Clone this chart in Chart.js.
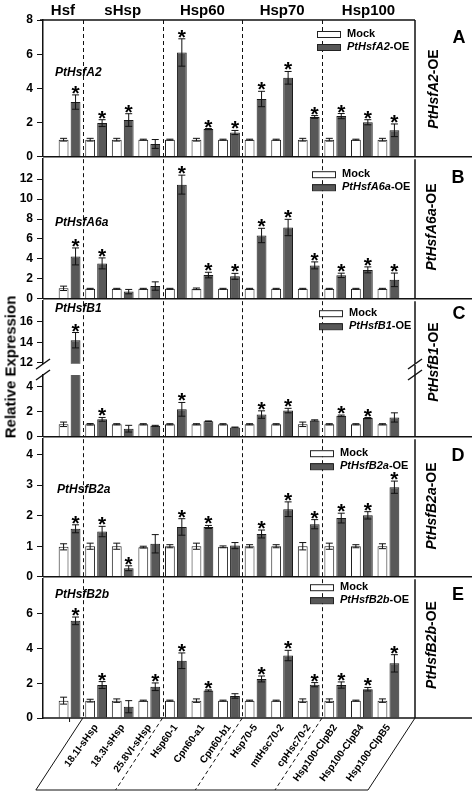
<!DOCTYPE html>
<html>
<head>
<meta charset="utf-8">
<script src="https://cdn.jsdelivr.net/npm/chart.js@4.4.1/dist/chart.umd.min.js"></script>
<style>
  body { margin: 0; background: #fff; }
  #fig { position: relative; width: 472px; height: 792px; overflow: hidden; font-family: "Liberation Sans", Arial, sans-serif; }
  #fig canvas { position: absolute; left: 0; }
  .lbl { position: absolute; font-weight: bold; color: #000; white-space: nowrap; line-height: 1; }
  .rot { transform: translate(-50%, -50%) rotate(-90deg); }
  .ctr { transform: translate(-50%, -50%); }
</style>
</head>
<body>
<div id="fig">
  <canvas id="cA" width="472" height="168" style="top:0px"></canvas>
  <canvas id="cB" width="472" height="162" style="top:148px"></canvas>
  <canvas id="cC1" width="472" height="85" style="top:290px"></canvas>
  <canvas id="cC2" width="472" height="93" style="top:355px"></canvas>
  <canvas id="cD" width="472" height="160" style="top:428px"></canvas>
  <canvas id="cE" width="472" height="224" style="top:568px"></canvas>

  <div class="lbl rot" style="left:10px;top:367px;font-size:15px">Relative Expression</div>

  <div class="lbl ctr" style="left:459px;top:37px;font-size:18px">A</div>
  <div class="lbl ctr" style="left:458px;top:177px;font-size:18px">B</div>
  <div class="lbl ctr" style="left:459px;top:313px;font-size:18px">C</div>
  <div class="lbl ctr" style="left:458px;top:455px;font-size:18px">D</div>
  <div class="lbl ctr" style="left:458px;top:594px;font-size:18px">E</div>

  <div class="lbl rot" style="left:433px;top:89px;font-size:14px"><i>PtHsfA2</i>-OE</div>
  <div class="lbl rot" style="left:431px;top:227px;font-size:14px"><i>PtHsfA6a</i>-OE</div>
  <div class="lbl rot" style="left:433px;top:362px;font-size:14px"><i>PtHsfB1</i>-OE</div>
  <div class="lbl rot" style="left:431px;top:506px;font-size:14px"><i>PtHsfB2a</i>-OE</div>
  <div class="lbl rot" style="left:431px;top:645px;font-size:14px"><i>PtHsfB2b</i>-OE</div>
</div>

<script>
// categorías del eje x (la primera es el propio Hsf, sin rótulo abajo)
const tickLabels = ['', '18.1I-sHsp', '18.3I-sHsp', '25.8VI-sHsp', 'Hsp60-1', 'Cpn60-a1', 'Cpn60-b1',
  'Hsp70-5', 'mtHsc70-2', 'cpHsc70-2', 'Hsp100-ClpB2', 'Hsp100-ClpB4', 'Hsp100-ClpB5'];
const groupNames = ['Hsf', 'sHsp', 'Hsp60', 'Hsp70', 'Hsp100'];
const groupSizes = [1, 3, 3, 3, 3];

// A - PtHsfA2-OE
const mockA = [1.0, 1.0, 1.0, 1.0, 1.0, 1.0, 1.0, 1.0, 1.0, 1.0, 1.0, 1.0, 1.0];
const mockErrA = [0.08, 0.08, 0.08, 0.03, 0.03, 0.08, 0.03, 0.03, 0.03, 0.08, 0.08, 0.03, 0.08];
const oeA = [3.2, 1.97, 2.15, 0.75, 6.1, 1.62, 1.42, 3.38, 4.62, 2.33, 2.38, 2.02, 1.55];
const oeErrA = [0.42, 0.2, 0.37, 0.26, 0.8, 0.03, 0.12, 0.45, 0.37, 0.08, 0.15, 0.15, 0.37];
const sigA = [1, 1, 1, 0, 1, 1, 1, 1, 1, 1, 1, 1, 1];
const ticksA = [0, 2, 4, 6, 8];

// B - PtHsfA6a-OE
const mockB = [1.05, 1.0, 1.0, 1.0, 1.0, 1.0, 1.0, 1.0, 1.0, 1.0, 1.0, 1.0, 1.0];
const mockErrB = [0.22, 0.05, 0.05, 0.05, 0.05, 0.08, 0.05, 0.05, 0.05, 0.05, 0.05, 0.05, 0.05];
const oeB = [4.25, 3.55, 0.72, 1.28, 11.45, 2.38, 2.25, 6.35, 7.15, 3.35, 2.35, 2.9, 1.9];
const oeErrB = [0.85, 0.55, 0.22, 0.42, 0.95, 0.28, 0.3, 0.72, 0.82, 0.35, 0.22, 0.3, 0.68];
const sigB = [1, 1, 0, 0, 1, 1, 1, 1, 1, 1, 1, 1, 1];
const ticksB = [0, 2, 4, 6, 8, 10, 12];

// C - PtHsfB1-OE (eje cortado)
const mockC = [1.0, 1.0, 1.0, 1.0, 1.0, 1.0, 1.0, 1.0, 1.0, 1.0, 1.0, 1.0, 1.0];
const mockErrC = [0.18, 0.06, 0.05, 0.05, 0.05, 0.05, 0.05, 0.05, 0.05, 0.18, 0.05, 0.05, 0.05];
const oeC = [14.2, 1.4, 0.65, 0.88, 2.2, 1.25, 0.75, 1.78, 2.1, 1.31, 1.68, 1.5, 1.55];
const oeErrC = [0.75, 0.15, 0.27, 0.04, 0.55, 0.02, 0.03, 0.3, 0.18, 0.05, 0.06, 0.04, 0.37];
const sigC = [1, 1, 0, 0, 1, 0, 0, 1, 1, 0, 1, 1, 0];
const ticksCtop = [12, 14, 16];
const ticksCbottom = [0, 2, 4];

// D - PtHsfB2a-OE
const mockD = [0.98, 1.0, 1.0, 0.97, 1.0, 1.0, 0.98, 1.0, 1.0, 1.0, 1.0, 1.0, 1.0];
const mockErrD = [0.1, 0.1, 0.1, 0.03, 0.05, 0.1, 0.03, 0.05, 0.05, 0.12, 0.1, 0.05, 0.08];
const oeD = [1.57, 1.48, 0.28, 1.08, 1.63, 1.63, 1.02, 1.4, 2.21, 1.72, 1.92, 2.01, 2.93];
const oeErrD = [0.13, 0.17, 0.08, 0.3, 0.27, 0.05, 0.1, 0.13, 0.24, 0.15, 0.16, 0.12, 0.2];
const sigD = [1, 1, 1, 0, 1, 1, 0, 1, 1, 1, 1, 1, 1];
const ticksD = [0, 1, 2, 3, 4];

// E - PtHsfB2b-OE
const mockE = [1.0, 1.0, 1.0, 1.0, 1.0, 1.0, 1.0, 1.0, 1.0, 1.0, 1.0, 1.0, 1.0];
const mockErrE = [0.2, 0.08, 0.1, 0.03, 0.03, 0.1, 0.03, 0.03, 0.03, 0.1, 0.1, 0.03, 0.1];
const oeE = [5.6, 1.9, 0.65, 1.8, 3.3, 1.58, 1.27, 2.25, 3.6, 1.92, 1.9, 1.66, 3.15];
const oeErrE = [0.22, 0.2, 0.35, 0.22, 0.45, 0.04, 0.13, 0.17, 0.3, 0.12, 0.18, 0.1, 0.5];
const sigE = [1, 1, 0, 1, 1, 1, 0, 1, 1, 1, 1, 1, 1];
const ticksE = [0, 2, 4, 6];

const FONT = '"Liberation Sans", Arial, sans-serif';
const OE_COLOR = '#585858';
const LINE = '#111';

const panels = [
  { id: 'cA', mock: mockA, mockErr: mockErrA, oe: oeA, oeErr: oeErrA, sig: sigA, ticks: ticksA, min: 0, max: 8,
    padTop: 20, padBottom: 10, gene: 'PtHsfA2', geneAt: [55, 53], legendAt: [317, 14], header: true, topLine: true },
  { id: 'cB', mock: mockB, mockErr: mockErrB, oe: oeB, oeErr: oeErrB, sig: sigB, ticks: ticksB, min: 0, max: 14,
    padTop: 10, padBottom: 10, gene: 'PtHsfA6a', geneAt: [55, 63], legendAt: [312, 15] },
  { id: 'cC1', mock: mockC, mockErr: mockErrC, oe: oeC, oeErr: oeErrC, sig: sigC, ticks: ticksCtop, min: 11.9, max: 18,
    padTop: 10, padBottom: 10, gene: 'PtHsfB1', geneAt: [55, 7], legendAt: [319, 12], noBottom: true },
  { id: 'cC2', mock: mockC, mockErr: mockErrC, oe: oeC, oeErr: oeErrC, sig: sigC, ticks: ticksCbottom, min: 0, max: 4.95,
    padTop: 20, padBottom: 10, brokenTop: 10 },
  { id: 'cD', mock: mockD, mockErr: mockErrD, oe: oeD, oeErr: oeErrD, sig: sigD, ticks: ticksD, min: 0, max: 4.5,
    padTop: 10, padBottom: 10, gene: 'PtHsfB2a', geneAt: [57, 50], legendAt: [310, 14] },
  { id: 'cE', mock: mockE, mockErr: mockErrE, oe: oeE, oeErr: oeErrE, sig: sigE, ticks: ticksE, min: 0, max: 8,
    padTop: 10, padBottom: 0, gene: 'PtHsfB2b', geneAt: [55, 15], legendAt: [310, 8], xLabels: true }
];

// límites entre grupos (en unidades del eje x)
const groupEdges = [];
groupSizes.reduce((acc, n) => { groupEdges.push(acc + 0.5); return acc + n; }, 0);
groupEdges.push(tickLabels.length + 0.5);

const linea = (ctx, x1, y1, x2, y2) => { ctx.beginPath(); ctx.moveTo(x1, y1); ctx.lineTo(x2, y2); ctx.stroke(); };

const crearPanel = (p) => {
  const xs = tickLabels.map((_, i) => i + 1);
  const puntos = (arr) => arr.map((v, i) => ({ x: xs[i], y: v }));

  const decor = {
    id: 'decor',
    afterDatasetsDraw(chart) {
      const { ctx, scales: { y } } = chart;
      ctx.save();
      [0, 1].forEach((di) => {
        const vals = di ? p.oe : p.mock;
        const errs = di ? p.oeErr : p.mockErr;
        chart.getDatasetMeta(di).data.forEach((el, i) => {
          const v = vals[i];
          if (v > y.max || v < y.min) return;
          const hi = y.getPixelForValue(v + errs[i]);
          const lo = y.getPixelForValue(Math.max(v - errs[i], y.min));
          ctx.strokeStyle = LINE;
          ctx.lineWidth = 1;
          linea(ctx, el.x, hi, el.x, lo);
          linea(ctx, el.x - 3.5, hi, el.x + 3.5, hi);
          linea(ctx, el.x - 3.5, lo, el.x + 3.5, lo);
          if (di && p.sig[i]) {
            ctx.fillStyle = '#000';
            ctx.font = 'bold 21px ' + FONT;
            ctx.textAlign = 'center';
            ctx.textBaseline = 'alphabetic';
            ctx.fillText('*', el.x, hi + 5);
          }
        });
      });
      ctx.restore();
    },
    afterDraw(chart) {
      const { ctx, chartArea: a, scales: { x } } = chart;
      const W = chart.width;
      ctx.save();
      ctx.strokeStyle = LINE;
      ctx.lineWidth = 1.5;
      const top = a.top - (p.brokenTop || 0);
      // marco
      if (p.topLine) linea(ctx, a.left - 3, a.top, a.right, a.top);
      if (!p.noBottom) linea(ctx, a.left, a.bottom, W, a.bottom);
      linea(ctx, a.right, top, a.right, a.bottom);
      // líneas de grupo
      ctx.lineWidth = 1;
      ctx.setLineDash([4, 3]);
      groupEdges.slice(1, -1).forEach((g) => {
        const gx = Math.round(x.getPixelForValue(g)) + 0.5;
        linea(ctx, gx, top, gx, a.bottom);
      });
      ctx.setLineDash([]);
      // corte del eje
      if (p.brokenTop) {
        ctx.lineWidth = 1.5;
        [a.left, a.right].forEach((bx) => {
          [top - 1, a.top].forEach((by) => linea(ctx, bx - 7, by + 5, bx + 7, by - 5));
        });
      }
      // encabezado
      if (p.header) {
        ctx.fillStyle = '#000';
        ctx.font = 'bold 15px ' + FONT;
        ctx.textAlign = 'center';
        ctx.textBaseline = 'middle';
        groupNames.forEach((name, k) => {
          const g0 = k === 0 ? x.min : groupEdges[k];
          const g1 = k === groupNames.length - 1 ? x.max : groupEdges[k + 1];
          ctx.fillText(name, (x.getPixelForValue(g0) + x.getPixelForValue(g1)) / 2, a.top - 9);
        });
      }
      // nombre del gen
      if (p.gene) {
        ctx.fillStyle = '#000';
        ctx.font = 'italic bold 12px ' + FONT;
        ctx.textAlign = 'left';
        ctx.textBaseline = 'middle';
        ctx.fillText(p.gene, p.geneAt[0], a.top + p.geneAt[1]);
        // leyenda
        const lx = p.legendAt[0], ly = a.top + p.legendAt[1];
        ctx.lineWidth = 1;
        ctx.strokeStyle = '#222';
        [['#fff', ly], [OE_COLOR, ly + 13]].forEach(([c, yy]) => {
          ctx.fillStyle = c;
          ctx.fillRect(lx, yy - 3, 23, 6);
          ctx.strokeRect(lx + 0.5, yy - 3 + 0.5, 23, 6);
        });
        ctx.fillStyle = '#000';
        ctx.font = 'bold 11px ' + FONT;
        ctx.fillText('Mock', lx + 30, ly);
        ctx.font = 'italic bold 11px ' + FONT;
        ctx.fillText(p.gene, lx + 30, ly + 13);
        const w = ctx.measureText(p.gene).width;
        ctx.font = 'bold 11px ' + FONT;
        ctx.fillText('-OE', lx + 30 + w, ly + 13);
      }
      // caja de rótulos inferior
      if (p.xLabels) {
        const dy = 72, dx = 47;
        ctx.strokeStyle = LINE;
        ctx.lineWidth = 1;
        const x0 = x.getPixelForValue(groupEdges[1]);
        linea(ctx, x.getPixelForValue(1), a.bottom, x.getPixelForValue(1), a.bottom + 4);
        linea(ctx, x0, a.bottom, x0 - dx, a.bottom + dy);
        linea(ctx, x0 - dx, a.bottom + dy, a.right - dx, a.bottom + dy);
        linea(ctx, a.right, a.bottom, a.right - dx, a.bottom + dy);
        ctx.setLineDash([4, 3]);
        groupEdges.slice(2, -1).forEach((g) => {
          const gx = x.getPixelForValue(g);
          linea(ctx, gx, a.bottom, gx - dx, a.bottom + dy);
        });
        ctx.setLineDash([]);
      }
      ctx.restore();
    }
  };

  const xScale = {
    type: 'linear', min: 0, max: 14, offset: false,
    display: !!p.xLabels,
    grid: { display: false, drawTicks: false },
    border: { display: false },
    ticks: {
      autoSkip: false, minRotation: 54, maxRotation: 54, padding: 4, color: '#000',
      font: { family: FONT, size: 10, weight: 'bold' },
      callback: (v, i) => tickLabels[i] || ''
    },
    afterBuildTicks: (s) => { s.ticks = xs.map((v) => ({ value: v })); }
  };
  // alto fijo sólo en el panel con rótulos
  if (p.xLabels) xScale.afterFit = (s) => { s.height = 74; };

  new Chart(document.getElementById(p.id), {
    type: 'bar',
    data: {
      datasets: [
        { label: 'Mock', data: puntos(p.mock), backgroundColor: '#ffffff', borderColor: '#1a1a1a', borderWidth: 1,
          categoryPercentage: 0.9, barPercentage: 0.82, clip: 0 },
        { label: (p.gene || 'PtHsfB1') + '-OE', data: puntos(p.oe), backgroundColor: OE_COLOR, borderColor: '#1a1a1a', borderWidth: 1,
          categoryPercentage: 0.9, barPercentage: 0.82, clip: 0 }
      ]
    },
    options: {
      responsive: false,
      animation: false,
      devicePixelRatio: 1,
      layout: { padding: { top: p.padTop, bottom: p.padBottom, left: 0, right: 57 } },
      plugins: { legend: { display: false }, tooltip: { enabled: false } },
      scales: {
        x: xScale,
        y: {
          min: p.min, max: p.max,
          grid: { drawOnChartArea: false, drawTicks: true, tickLength: 6, tickColor: LINE, tickWidth: 1 },
          border: { color: LINE, width: 1.5 },
          ticks: { autoSkip: false, color: '#000', padding: 4, font: { family: FONT, size: 12, weight: 'bold' } },
          afterBuildTicks: (s) => { s.ticks = p.ticks.map((v) => ({ value: v })); },
          afterFit: (s) => { s.width = 43; }
        }
      }
    },
    plugins: [decor]
  });
};

panels.forEach(crearPanel);
</script>
</body>
</html>
